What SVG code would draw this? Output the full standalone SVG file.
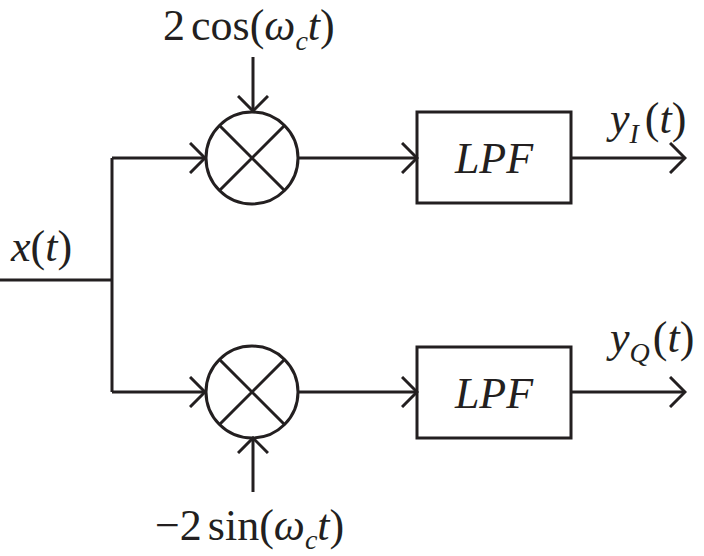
<svg xmlns="http://www.w3.org/2000/svg" width="704" height="556" viewBox="0 0 704 556">
<defs>
<style>
.ln{fill:none;stroke:#231f20;stroke-width:3;stroke-linecap:butt;stroke-linejoin:miter}
.t{font-family:"Liberation Serif","Times New Roman",serif;fill:#231f20;font-size:44px}
.i{font-style:italic}
.s{font-style:italic;font-size:28px}
</style>
<marker id="ah" viewBox="-16 -16 18 32" markerWidth="18" markerHeight="32" refX="0" refY="0" orient="auto" markerUnits="userSpaceOnUse">
<path d="M-15,-15 L0,0 L-15,15" fill="none" stroke="#231f20" stroke-width="3"/>
</marker>
</defs>
<rect width="704" height="556" fill="#fff"/>
<g id="connectors">
<path class="ln" d="M0,280 H112"/>
<path class="ln" d="M112,158 V392"/>
<path class="ln" d="M112,158 H205" marker-end="url(#ah)"/>
<path class="ln" d="M112,392 H205" marker-end="url(#ah)"/>
<path class="ln" d="M253,57 V111" marker-end="url(#ah)"/>
<path class="ln" d="M253,492 V438" marker-end="url(#ah)"/>
<path class="ln" d="M299,158 H417" marker-end="url(#ah)"/>
<path class="ln" d="M299,392 H417" marker-end="url(#ah)"/>
<path class="ln" d="M571,158 H685" marker-end="url(#ah)"/>
<path class="ln" d="M571,392 H685" marker-end="url(#ah)"/>
</g>
<g id="mult1">
<circle class="ln" cx="252" cy="158" r="46"/>
<path class="ln" d="M219.5,125.5 L284.5,190.5 M284.5,125.5 L219.5,190.5"/>
</g>
<g id="mult2">
<circle class="ln" cx="252" cy="392" r="46"/>
<path class="ln" d="M219.5,359.5 L284.5,424.5 M284.5,359.5 L219.5,424.5"/>
</g>
<g id="lpf1">
<rect class="ln" x="417" y="112" width="154" height="91"/>
<text class="t i" x="494" y="173" text-anchor="middle" font-size="46">LPF</text>
</g>
<g id="lpf2">
<rect class="ln" x="417" y="347" width="154" height="91"/>
<text class="t i" x="494" y="408" text-anchor="middle" font-size="46">LPF</text>
</g>
<g id="labels">
<text class="t" x="163" y="40">2<tspan dx="6">cos(</tspan><tspan class="i">ω</tspan><tspan class="s" dy="10">c</tspan><tspan class="i" dy="-10">t</tspan>)</text>
<text class="t" x="11" y="261"><tspan class="i">x</tspan>(<tspan class="i">t</tspan>)</text>
<text class="t" x="610" y="133"><tspan class="i">y</tspan><tspan class="s" dy="10">I</tspan><tspan dy="-10" dx="6">(</tspan><tspan class="i">t</tspan>)</text>
<text class="t" x="610" y="352"><tspan class="i">y</tspan><tspan class="s" dy="10">Q</tspan><tspan dy="-10" dx="3">(</tspan><tspan class="i">t</tspan>)</text>
<text class="t" x="155" y="540">−2<tspan dx="6">sin(</tspan><tspan class="i">ω</tspan><tspan class="s" dy="9">c</tspan><tspan class="i" dy="-9">t</tspan>)</text>
</g>
</svg>
